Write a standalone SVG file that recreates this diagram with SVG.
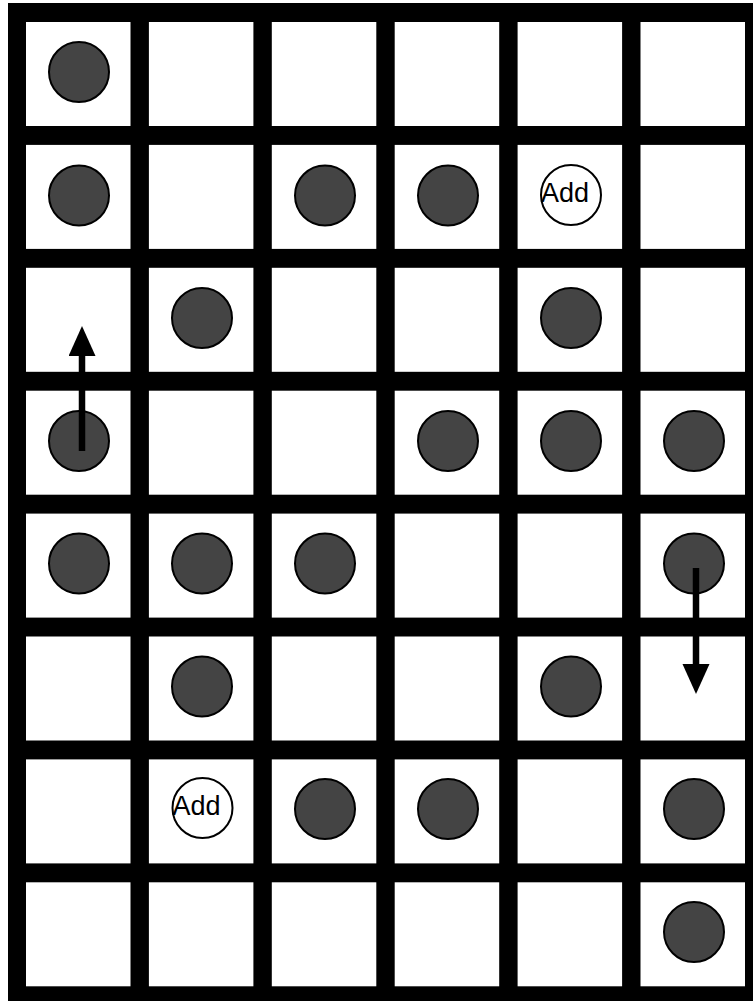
<svg xmlns="http://www.w3.org/2000/svg" width="753" height="1001" viewBox="0 0 753 1001">
<style>
.cell{fill:#ffffff}
.tok{fill:#444444;stroke:#000;stroke-width:2}
.add{fill:#ffffff;stroke:#000;stroke-width:2}
.lbl{font-family:"Liberation Sans",Arial,sans-serif;font-size:27px;fill:#000}
.arr{stroke:#000;stroke-width:6.5;fill:none}
</style>
<defs>
<marker id="ah" markerUnits="userSpaceOnUse" markerWidth="31" markerHeight="28" refX="0" refY="13.5" orient="auto">
<path d="M0,0 L30,13.5 L0,27 Z" fill="#000"/>
</marker>
</defs>
<g id="grid">
<rect x="8" y="3" width="760" height="1010" fill="#000"/>
<g id="row0"><rect class="cell" x="26" y="22" width="104.5" height="104"/><rect class="cell" x="148.9" y="22" width="104.5" height="104"/><rect class="cell" x="271.8" y="22" width="104.5" height="104"/><rect class="cell" x="394.7" y="22" width="104.5" height="104"/><rect class="cell" x="517.6" y="22" width="104.5" height="104"/><rect class="cell" x="640.5" y="22" width="104.5" height="104"/></g>
<g id="row1"><rect class="cell" x="26" y="144.9" width="104.5" height="104"/><rect class="cell" x="148.9" y="144.9" width="104.5" height="104"/><rect class="cell" x="271.8" y="144.9" width="104.5" height="104"/><rect class="cell" x="394.7" y="144.9" width="104.5" height="104"/><rect class="cell" x="517.6" y="144.9" width="104.5" height="104"/><rect class="cell" x="640.5" y="144.9" width="104.5" height="104"/></g>
<g id="row2"><rect class="cell" x="26" y="267.8" width="104.5" height="104"/><rect class="cell" x="148.9" y="267.8" width="104.5" height="104"/><rect class="cell" x="271.8" y="267.8" width="104.5" height="104"/><rect class="cell" x="394.7" y="267.8" width="104.5" height="104"/><rect class="cell" x="517.6" y="267.8" width="104.5" height="104"/><rect class="cell" x="640.5" y="267.8" width="104.5" height="104"/></g>
<g id="row3"><rect class="cell" x="26" y="390.7" width="104.5" height="104"/><rect class="cell" x="148.9" y="390.7" width="104.5" height="104"/><rect class="cell" x="271.8" y="390.7" width="104.5" height="104"/><rect class="cell" x="394.7" y="390.7" width="104.5" height="104"/><rect class="cell" x="517.6" y="390.7" width="104.5" height="104"/><rect class="cell" x="640.5" y="390.7" width="104.5" height="104"/></g>
<g id="row4"><rect class="cell" x="26" y="513.6" width="104.5" height="104"/><rect class="cell" x="148.9" y="513.6" width="104.5" height="104"/><rect class="cell" x="271.8" y="513.6" width="104.5" height="104"/><rect class="cell" x="394.7" y="513.6" width="104.5" height="104"/><rect class="cell" x="517.6" y="513.6" width="104.5" height="104"/><rect class="cell" x="640.5" y="513.6" width="104.5" height="104"/></g>
<g id="row5"><rect class="cell" x="26" y="636.5" width="104.5" height="104"/><rect class="cell" x="148.9" y="636.5" width="104.5" height="104"/><rect class="cell" x="271.8" y="636.5" width="104.5" height="104"/><rect class="cell" x="394.7" y="636.5" width="104.5" height="104"/><rect class="cell" x="517.6" y="636.5" width="104.5" height="104"/><rect class="cell" x="640.5" y="636.5" width="104.5" height="104"/></g>
<g id="row6"><rect class="cell" x="26" y="759.4" width="104.5" height="104"/><rect class="cell" x="148.9" y="759.4" width="104.5" height="104"/><rect class="cell" x="271.8" y="759.4" width="104.5" height="104"/><rect class="cell" x="394.7" y="759.4" width="104.5" height="104"/><rect class="cell" x="517.6" y="759.4" width="104.5" height="104"/><rect class="cell" x="640.5" y="759.4" width="104.5" height="104"/></g>
<g id="row7"><rect class="cell" x="26" y="882.3" width="104.5" height="104"/><rect class="cell" x="148.9" y="882.3" width="104.5" height="104"/><rect class="cell" x="271.8" y="882.3" width="104.5" height="104"/><rect class="cell" x="394.7" y="882.3" width="104.5" height="104"/><rect class="cell" x="517.6" y="882.3" width="104.5" height="104"/><rect class="cell" x="640.5" y="882.3" width="104.5" height="104"/></g>
</g>
<g id="n-r0c0"><circle class="tok" cx="79" cy="72" r="30"/></g>
<g id="n-r1c0"><circle class="tok" cx="79" cy="195.5" r="30"/></g>
<g id="n-r1c2"><circle class="tok" cx="325" cy="195.5" r="30"/></g>
<g id="n-r1c3"><circle class="tok" cx="448" cy="195.5" r="30"/></g>
<g id="n-r1c4"><circle class="add" cx="571" cy="195" r="30"/><text class="lbl" x="541" y="201.5">Add</text></g>
<g id="n-r2c1"><circle class="tok" cx="202" cy="318" r="30"/></g>
<g id="n-r2c4"><circle class="tok" cx="571" cy="318" r="30"/></g>
<g id="n-r3c0"><circle class="tok" cx="79" cy="441" r="30"/></g>
<g id="n-r3c3"><circle class="tok" cx="448" cy="441" r="30"/></g>
<g id="n-r3c4"><circle class="tok" cx="571" cy="441" r="30"/></g>
<g id="n-r3c5"><circle class="tok" cx="694" cy="441" r="30"/></g>
<g id="n-r4c0"><circle class="tok" cx="79" cy="563.5" r="30"/></g>
<g id="n-r4c1"><circle class="tok" cx="202" cy="563.5" r="30"/></g>
<g id="n-r4c2"><circle class="tok" cx="325" cy="563.5" r="30"/></g>
<g id="n-r4c5"><circle class="tok" cx="694" cy="563.5" r="30"/></g>
<g id="n-r5c1"><circle class="tok" cx="202" cy="686.5" r="30"/></g>
<g id="n-r5c4"><circle class="tok" cx="571" cy="686.5" r="30"/></g>
<g id="n-r6c1"><circle class="add" cx="202.5" cy="808" r="30"/><text class="lbl" x="172.5" y="814.5">Add</text></g>
<g id="n-r6c2"><circle class="tok" cx="325" cy="809" r="30"/></g>
<g id="n-r6c3"><circle class="tok" cx="448" cy="809" r="30"/></g>
<g id="n-r6c5"><circle class="tok" cx="694" cy="809" r="30"/></g>
<g id="n-r7c5"><circle class="tok" cx="694" cy="932" r="30"/></g>
<g id="connectors">
<line class="arr" x1="82" y1="451" x2="82" y2="356" marker-end="url(#ah)"/>
<line class="arr" x1="696" y1="568" x2="696" y2="664" marker-end="url(#ah)"/>
</g>
</svg>
